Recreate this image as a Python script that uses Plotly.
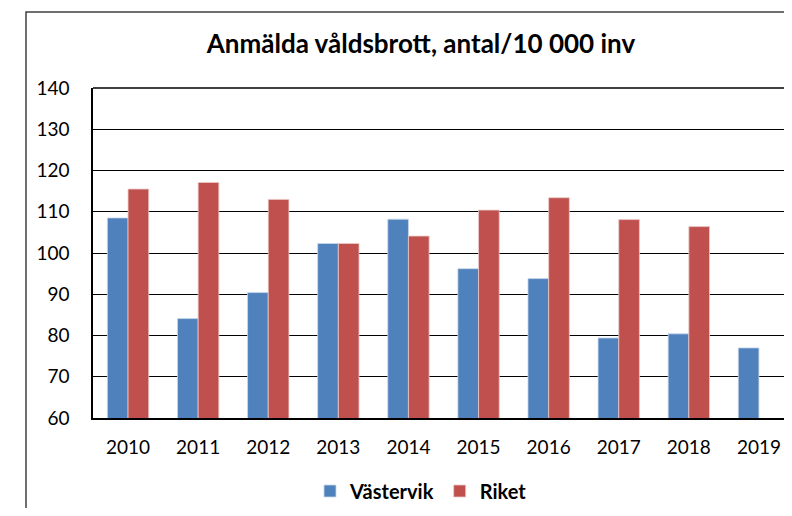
import plotly.graph_objects as go

years = ["2010", "2011", "2012", "2013", "2014", "2015", "2016", "2017", "2018", "2019"]
vastervik = [108.5, 84.1, 90.4, 102.3, 108.2, 96.2, 93.8, 79.4, 80.4, 77.0]
riket = [115.5, 117.1, 113.0, 102.3, 104.1, 110.4, 113.4, 108.1, 106.4, None]
yticks = [60, 70, 80, 90, 100, 110, 120, 130, 140]

FONT = "Lato, Carlito, Calibri, sans-serif"

fig = go.Figure()
fig.add_trace(go.Bar(name="<b>Västervik</b>", x=years, y=vastervik,
                     marker=dict(color="#4F81BD", line=dict(color="rgba(200,215,235,0.8)", width=1))))
fig.add_trace(go.Bar(name="<b>Riket</b>", x=years, y=riket,
                     marker=dict(color="#C0504D", line=dict(color="rgba(235,200,200,0.8)", width=1))))

# page body has an 8px margin; figure coordinates are offset by 8px
OFF = 8
W, H = 792 - 2 * OFF, 516 - 2 * OFF
L, T = 93 - OFF, 88 - OFF
R = 0
B = H - (418 - OFF)
pw, ph = W - L - R, H - T - B
band = 70.1  # px per category in the reference
xmax = -0.5 + pw / band

fig.update_layout(
    width=W, height=H,
    margin=dict(l=L, r=R, t=T, b=B, pad=0, autoexpand=False),
    paper_bgcolor="white", plot_bgcolor="white",
    barmode="group", bargap=0.41, bargroupgap=0,
    font=dict(family=FONT, size=19, color="#000000"),
    title=dict(text="<b>Anmälda våldsbrott, antal/10 000 inv</b>",
               x=(421 - OFF) / W, xanchor="center", xref="container",
               y=1 - (44 - OFF) / H, yanchor="middle", yref="container",
               font=dict(family=FONT, size=26, color="#000000")),
    legend=dict(orientation="h", x=(421 - 93) / pw, xanchor="center",
                y=(418 - 491) / ph, yanchor="middle",
                font=dict(family=FONT, size=20, color="#000000"),
                itemwidth=30, traceorder="normal"),
    showlegend=True,
)
fig.update_xaxes(range=[-0.5, xmax], showline=True, linecolor="#000000", linewidth=1.5,
                 ticks="", ticklabelstandoff=11, showgrid=False, automargin=False,
                 tickfont=dict(size=19))
fig.update_yaxes(range=[60, 140], tickvals=yticks, showline=True,
                 linecolor="#000000", linewidth=1.5, showgrid=True,
                 gridcolor="#000000", gridwidth=1.4, ticks="",
                 ticklabelstandoff=18, zeroline=False, automargin=False,
                 tickfont=dict(size=19))

# top gridline at 140 and outer chart border
fig.add_shape(type="line", xref="paper", yref="paper", x0=0, x1=1, y0=1, y1=1,
              line=dict(color="#000000", width=1.4))
fig.add_shape(type="rect", xref="paper", yref="paper",
              x0=(26 - 93) / pw, x1=1.2, y0=-1.0, y1=(418 - 12) / ph,
              line=dict(color="#404040", width=1.5), fillcolor="rgba(0,0,0,0)", layer="below")

fig.write_html("out.html")
